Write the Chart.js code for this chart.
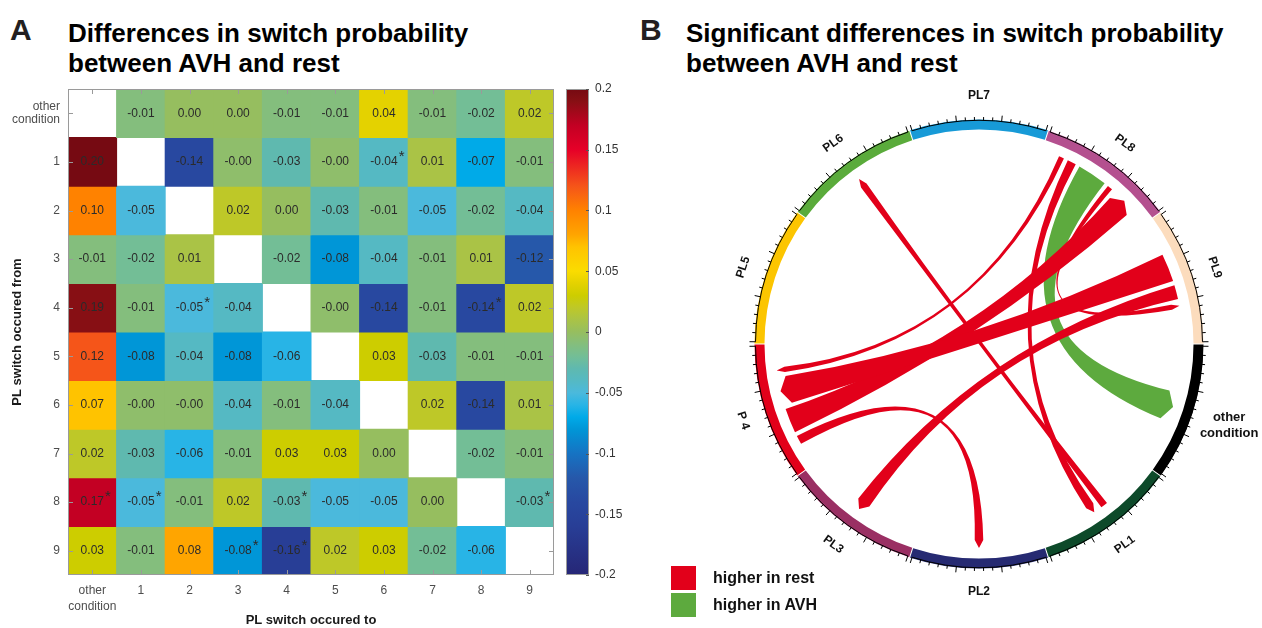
<!DOCTYPE html>
<html>
<head>
<meta charset="utf-8">
<script src="https://cdn.jsdelivr.net/npm/chart.js@4.4.0/dist/chart.umd.min.js"></script>
<style>
    html, body { margin: 0; padding: 0; background: #fff; }
    body { width: 1262px; height: 628px; position: relative; overflow: hidden;
           font-family: "Liberation Sans", Arial, sans-serif; }
    canvas { position: absolute; }
    .letter { position: absolute; font-weight: bold; font-size: 30px; line-height: 30px; color: #231f20; }
    .title { position: absolute; font-weight: bold; font-size: 26px; line-height: 30px; color: #000; white-space: nowrap; }
    .legend { position: absolute; left: 671px; height: 24px; line-height: 24px;
              font-weight: bold; font-size: 16px; color: #111; white-space: nowrap; }
    .legend .box { display: inline-block; width: 25px; height: 24px; vertical-align: top; margin-right: 17px; }
</style>
</head>
<body>
<div class="letter" style="left:10px; top:15px;">A</div>
<div class="title" style="left:68px; top:18px;">Differences in switch probability<br>between AVH and rest</div>
<div class="letter" style="left:640px; top:15px;">B</div>
<div class="title" style="left:686px; top:18px;">Significant differences in switch probability<br>between AVH and rest</div>

<canvas id="heat" width="560" height="628" style="left:0; top:0;"></canvas>
<canvas id="colorbar" width="80" height="628" style="left:560px; top:0;"></canvas>
<canvas id="chord" width="580" height="580" style="left:689px; top:54px;"></canvas>

<div class="legend" style="top:566px;"><span class="box" style="background:#e2001a;"></span>higher in rest</div>
<div class="legend" style="top:593px;"><span class="box" style="background:#5daa3e;"></span>higher in AVH</div>

<script>
"use strict";

// ---- data -------------------------------------------------------------
const matLabels = ['other condition', '1', '2', '3', '4', '5', '6', '7', '8', '9'];

// AVH minus rest; rows = switch occured from, columns = switch occured to
const fromOther = [null, -0.01, 0.00, 0.00, -0.01, -0.01, 0.04, -0.01, -0.02, 0.02];
const from1 = [0.20, null, -0.14, -0.004, -0.03, -0.004, -0.04, 0.01, -0.07, -0.01];
const from2 = [0.10, -0.05, null, 0.02, 0.00, -0.03, -0.01, -0.05, -0.02, -0.04];
const from3 = [-0.01, -0.02, 0.01, null, -0.02, -0.08, -0.04, -0.01, 0.01, -0.12];
const from4 = [0.19, -0.01, -0.05, -0.04, null, -0.004, -0.14, -0.01, -0.14, 0.02];
const from5 = [0.12, -0.08, -0.04, -0.08, -0.06, null, 0.03, -0.03, -0.01, -0.01];
const from6 = [0.07, -0.004, -0.004, -0.04, -0.01, -0.04, null, 0.02, -0.14, 0.01];
const from7 = [0.02, -0.03, -0.06, -0.01, 0.03, 0.03, 0.00, null, -0.02, -0.01];
const from8 = [0.17, -0.05, -0.01, 0.02, -0.03, -0.05, -0.05, 0.00, null, -0.03];
const from9 = [0.03, -0.01, 0.08, -0.08, -0.16, 0.02, 0.03, -0.02, -0.06, null];
const diffRows = [fromOther, from1, from2, from3, from4, from5, from6, from7, from8, from9];

// significant cells as [from, to]: starred in A, drawn as chords in B
const sigCells = [[1, 6], [4, 2], [4, 8], [8, 0], [8, 1], [8, 4], [8, 9], [9, 3], [9, 4]];

const colorbarTicks = [-0.2, -0.15, -0.1, -0.05, 0, 0.05, 0.1, 0.15, 0.2];

// chord sectors, clockwise starting at the top
const sectorNames = ['PL7', 'PL8', 'PL9', 'other condition', 'PL1', 'PL2', 'PL3', 'P 4', 'PL5', 'PL6'];
const sectorMatrixIndex = [7, 8, 9, 0, 1, 2, 3, 4, 5, 6];
const sectorSizes = [1, 1, 1, 1, 1, 1, 1, 1, 1, 1];

// ---- styles -----------------------------------------------------------
const sectorColors = ['#179ad7', '#b4508f', '#fcdcbd', '#000000', '#0d4a2a',
                      '#262a72', '#9a2f63', '#e2001a', '#fcc500', '#5aab3b'];
const RED = '#e2001a';
const GREEN = '#5daa3e';
const FONT = '"Liberation Sans", Arial, sans-serif';

const colorStops = [
    [-0.20, [38, 38, 118]], [-0.16, [40, 62, 150]], [-0.14, [40, 72, 160]],
    [-0.12, [38, 88, 170]], [-0.10, [22, 115, 195]], [-0.08, [0, 150, 215]],
    [-0.07, [0, 170, 232]], [-0.06, [40, 180, 230]], [-0.05, [75, 185, 220]],
    [-0.04, [85, 185, 195]], [-0.03, [95, 185, 175]], [-0.02, [115, 190, 150]],
    [-0.01, [132, 190, 125]], [0.00, [150, 190, 95]], [0.01, [170, 195, 70]],
    [0.02, [190, 200, 40]], [0.03, [205, 205, 0]], [0.04, [228, 210, 0]],
    [0.05, [250, 220, 0]], [0.07, [255, 195, 0]], [0.08, [255, 165, 0]],
    [0.10, [255, 130, 0]], [0.12, [245, 85, 25]], [0.15, [230, 0, 40]],
    [0.17, [195, 0, 35]], [0.19, [135, 15, 20]], [0.20, [118, 10, 18]]
];

function valueColor(v) {
    if (v <= colorStops[0][0]) return 'rgb(' + colorStops[0][1].join(',') + ')';
    for (let i = 1; i < colorStops.length; i++) {
        const [v1, c1] = colorStops[i];
        if (v <= v1) {
            const [v0, c0] = colorStops[i - 1];
            const t = (v - v0) / (v1 - v0);
            return 'rgb(' + c0.map((c, k) => Math.round(c + (c1[k] - c) * t)).join(',') + ')';
        }
    }
    return 'rgb(' + colorStops[colorStops.length - 1][1].join(',') + ')';
}

function isSig(r, c) {
    return sigCells.some(([f, t]) => f === r && t === c);
}

Chart.defaults.font.family = FONT;
Chart.defaults.animation = false;

// ---- A: heatmap -------------------------------------------------------
const heatPlugin = {
    id: 'heatCells',
    afterDatasetsDraw(chart) {
        const ctx = chart.ctx;
        const area = chart.chartArea;
        const xs = chart.scales.x, ys = chart.scales.y;
        ctx.save();
        ctx.font = '12px ' + FONT;
        ctx.fillStyle = '#2b2b2b';
        ctx.textAlign = 'center';
        ctx.textBaseline = 'middle';
        diffRows.forEach((row, r) => {
            const meta = chart.getDatasetMeta(r);
            row.forEach((v, c) => {
                if (v === null) return;
                const p = meta.data[c].getCenterPoint();
                const txt = v.toFixed(2);
                ctx.fillText(txt, p.x, p.y);
                if (isSig(r, c)) {
                    const w = ctx.measureText(txt).width;
                    ctx.font = '15px ' + FONT;
                    ctx.fillText('*', p.x + w / 2 + 4, p.y - 5);
                    ctx.font = '12px ' + FONT;
                }
            });
        });
        // box with inward ticks
        ctx.strokeStyle = '#9a9a9a';
        ctx.lineWidth = 1;
        ctx.strokeRect(area.left + 0.5, area.top + 0.5, area.width - 1, area.height - 1);
        ctx.beginPath();
        matLabels.forEach((_, i) => {
            const x = Math.round(xs.getPixelForTick(i)) + 0.5;
            ctx.moveTo(x, area.top); ctx.lineTo(x, area.top + 5);
            ctx.moveTo(x, area.bottom); ctx.lineTo(x, area.bottom - 5);
            const y = Math.round(ys.getPixelForValue(i)) + 0.5;
            ctx.moveTo(area.left, y); ctx.lineTo(area.left + 5, y);
            ctx.moveTo(area.right, y); ctx.lineTo(area.right - 5, y);
        });
        ctx.stroke();
        ctx.restore();
    }
};

new Chart(document.getElementById('heat'), {
    type: 'bar',
    data: {
        labels: matLabels.map(l => l.includes(' ') ? l.split(' ') : l),
        datasets: diffRows.map((row, r) => ({
            data: row.map(v => v === null ? null : [r - 0.5, r + 0.5]),
            backgroundColor: row.map(v => v === null ? 'rgba(0,0,0,0)' : valueColor(v)),
            borderWidth: 0,
            inflateAmount: 0.5,
            barPercentage: 1,
            categoryPercentage: 1,
            grouped: false
        }))
    },
    options: {
        responsive: false,
        events: [],
        layout: { padding: { top: 89, right: 6, left: 0, bottom: 0 } },
        plugins: { legend: { display: false }, tooltip: { enabled: false } },
        scales: {
            x: {
                grid: { display: false, drawTicks: false },
                border: { display: false },
                ticks: { color: '#4d4d4d', padding: 8, maxRotation: 0, autoSkip: false,
                         font: { size: 12, lineHeight: 1.3 } },
                title: { display: true, text: 'PL switch occured to', color: '#1a1a1a',
                         font: { size: 13, weight: 'bold' }, padding: { top: 0, bottom: 0 } },
                afterFit: s => { s.height = 53; }
            },
            y: {
                type: 'linear',
                min: -0.5,
                max: 9.5,
                reverse: true,
                afterBuildTicks: s => { s.ticks = matLabels.map((_, i) => ({ value: i })); },
                grid: { display: false, drawTicks: false },
                border: { display: false },
                ticks: {
                    color: '#4d4d4d', padding: 8, font: { size: 12, lineHeight: 1.1 },
                    callback: v => {
                        const l = matLabels[v];
                        return l && l.includes(' ') ? l.split(' ') : l;
                    }
                },
                title: { display: true, text: 'PL switch occured from', color: '#1a1a1a',
                         font: { size: 13, weight: 'bold' }, padding: { top: 10, bottom: 0 } },
                afterFit: s => { s.width = 68; }
            }
        }
    },
    plugins: [heatPlugin]
});

// ---- A: colorbar ------------------------------------------------------
const colorbarPlugin = {
    id: 'colorbarFrame',
    afterDatasetsDraw(chart) {
        const ctx = chart.ctx;
        const area = chart.chartArea;
        const ys = chart.scales.y;
        ctx.save();
        ctx.strokeStyle = '#9a9a9a';
        ctx.lineWidth = 1;
        ctx.strokeRect(area.left + 0.5, area.top + 0.5, area.width - 1, area.height - 1);
        ctx.strokeStyle = '#555';
        ctx.beginPath();
        colorbarTicks.forEach(v => {
            const y = Math.round(ys.getPixelForValue(v)) + 0.5;
            ctx.moveTo(area.right, y); ctx.lineTo(area.right - 3, y);
        });
        ctx.stroke();
        ctx.restore();
    }
};

new Chart(document.getElementById('colorbar'), {
    type: 'bar',
    data: {
        labels: ['scale'],
        datasets: [{
            data: [[colorbarTicks[0], colorbarTicks[colorbarTicks.length - 1]]],
            backgroundColor: (c) => {
                const chart = c.chart;
                if (!chart.chartArea) return null;
                const ys = chart.scales.y;
                const lo = colorbarTicks[0], hi = colorbarTicks[colorbarTicks.length - 1];
                const g = chart.ctx.createLinearGradient(0, ys.getPixelForValue(lo), 0, ys.getPixelForValue(hi));
                colorStops.forEach(([v, col]) => g.addColorStop((v - lo) / (hi - lo), 'rgb(' + col.join(',') + ')'));
                return g;
            },
            borderWidth: 0,
            barPercentage: 1,
            categoryPercentage: 1
        }]
    },
    options: {
        responsive: false,
        events: [],
        layout: { padding: { top: 89, bottom: 53, left: 6, right: 0 } },
        plugins: { legend: { display: false }, tooltip: { enabled: false } },
        scales: {
            x: { display: false },
            y: {
                position: 'right',
                min: colorbarTicks[0],
                max: colorbarTicks[colorbarTicks.length - 1],
                afterBuildTicks: s => { s.ticks = colorbarTicks.map(v => ({ value: v })); },
                grid: { display: false, drawTicks: false },
                border: { display: false },
                ticks: { color: '#333', padding: 6, font: { size: 12 },
                         callback: v => String(+v.toFixed(2)) },
                afterFit: s => { s.width = 51; }
            }
        }
    },
    plugins: [colorbarPlugin]
});

// ---- B: chord diagram -------------------------------------------------
const CHORD_WIDTH = 50 * Math.PI / 180;   // radians per unit of difference
const CHORD_GAP = 1.2 * Math.PI / 180;
const TWO_PI = Math.PI * 2;

function ribbon(ctx, cx, cy, r, src, tgt, head) {
    const pt = (a, rr) => [cx + rr * Math.cos(a), cy + rr * Math.sin(a)];
    const s0 = pt(src[0], r);
    const t0 = pt(tgt[0], r - head);
    const tip = pt((tgt[0] + tgt[1]) / 2, r);
    const t1 = pt(tgt[1], r - head);
    ctx.beginPath();
    ctx.moveTo(s0[0], s0[1]);
    ctx.arc(cx, cy, r, src[0], src[1]);
    ctx.quadraticCurveTo(cx, cy, t0[0], t0[1]);
    ctx.lineTo(tip[0], tip[1]);
    ctx.lineTo(t1[0], t1[1]);
    ctx.quadraticCurveTo(cx, cy, s0[0], s0[1]);
    ctx.closePath();
    ctx.fill();
}

const chordPlugin = {
    id: 'chords',
    afterDraw(chart) {
        const ctx = chart.ctx;
        const arcs = chart.getDatasetMeta(0).data;
        const cx = arcs[0].x, cy = arcs[0].y;
        const R = arcs[0].outerRadius;
        const mids = arcs.map(a => (a.startAngle + a.endAngle) / 2);

        ctx.save();
        // axis line with ticks around each sector
        ctx.strokeStyle = '#000';
        ctx.lineWidth = 1;
        arcs.forEach(a => {
            const pad = 0.01;
            const a0 = a.startAngle + pad, a1 = a.endAngle - pad;
            ctx.beginPath();
            ctx.arc(cx, cy, R + 0.5, a0, a1);
            for (let k = 0; k <= 15; k++) {
                const ang = a0 + (a1 - a0) * k / 15;
                const len = k % 5 === 0 ? 6 : 3.5;
                ctx.moveTo(cx + (R + 0.5) * Math.cos(ang), cy + (R + 0.5) * Math.sin(ang));
                ctx.lineTo(cx + (R + 0.5 + len) * Math.cos(ang), cy + (R + 0.5 + len) * Math.sin(ang));
            }
            ctx.stroke();
        });

        // sector labels
        ctx.fillStyle = '#111';
        ctx.textAlign = 'center';
        ctx.textBaseline = 'middle';
        sectorNames.forEach((name, i) => {
            const a = mids[i];
            if (name.split(' ').length > 1 && name.length > 4) {
                ctx.font = 'bold 13px ' + FONT;
                const px = cx + (R + 40) * Math.cos(a), py = cy + (R + 40) * Math.sin(a);
                const lines = name.split(' ');
                lines.forEach((ln, k) => ctx.fillText(ln, px, py + (k - (lines.length - 1) / 2) * 16));
                return;
            }
            ctx.font = 'bold 12px ' + FONT;
            let deg = a * 180 / Math.PI + 90;
            deg = ((deg + 180) % 360 + 360) % 360 - 180;
            const rot = (deg > 90 ? deg - 180 : deg < -90 ? deg + 180 : deg) * Math.PI / 180;
            ctx.save();
            ctx.translate(cx + (R + 25) * Math.cos(a), cy + (R + 25) * Math.sin(a));
            ctx.rotate(rot);
            ctx.fillText(name, 0, 0);
            ctx.restore();
        });

        // place chord ends inside each sector
        const links = sigCells.map(([f, t]) => ({
            from: sectorMatrixIndex.indexOf(f),
            to: sectorMatrixIndex.indexOf(t),
            value: diffRows[f][t]
        }));
        const ends = sectorNames.map(() => []);
        links.forEach(l => {
            ends[l.from].push({ link: l, role: 'src', other: l.to });
            ends[l.to].push({ link: l, role: 'tgt', other: l.from });
        });
        ends.forEach((list, s) => {
            const delta = e => ((mids[e.other] - mids[s]) % TWO_PI + TWO_PI) % TWO_PI;
            list.sort((p, q) => p.role === q.role ? delta(q) - delta(p) : (p.role === 'src' ? -1 : 1));
            const widths = list.map(e => Math.abs(e.link.value) * CHORD_WIDTH);
            const total = widths.reduce((a, b) => a + b, 0) + CHORD_GAP * Math.max(list.length - 1, 0);
            let a0 = mids[s] - total / 2;
            list.forEach((e, k) => {
                e.link[e.role] = [a0, a0 + widths[k]];
                a0 += widths[k] + CHORD_GAP;
            });
        });

        // green (higher in AVH) underneath, red on top
        const rc = R * 0.915;
        links.slice().sort((p, q) => (q.value > 0) - (p.value > 0)).forEach(l => {
            ctx.fillStyle = l.value > 0 ? GREEN : RED;
            ribbon(ctx, cx, cy, rc, l.src, l.tgt, 8);
        });
        ctx.restore();
    }
};

new Chart(document.getElementById('chord'), {
    type: 'doughnut',
    data: {
        labels: sectorNames,
        datasets: [{
            data: sectorSizes,
            backgroundColor: sectorColors,
            borderWidth: 0,
            spacing: 3
        }]
    },
    options: {
        responsive: false,
        events: [],
        rotation: -18,
        cutout: 213,
        layout: { padding: 65.5 },
        plugins: { legend: { display: false }, tooltip: { enabled: false } }
    },
    plugins: [chordPlugin]
});
</script>
</body>
</html>
